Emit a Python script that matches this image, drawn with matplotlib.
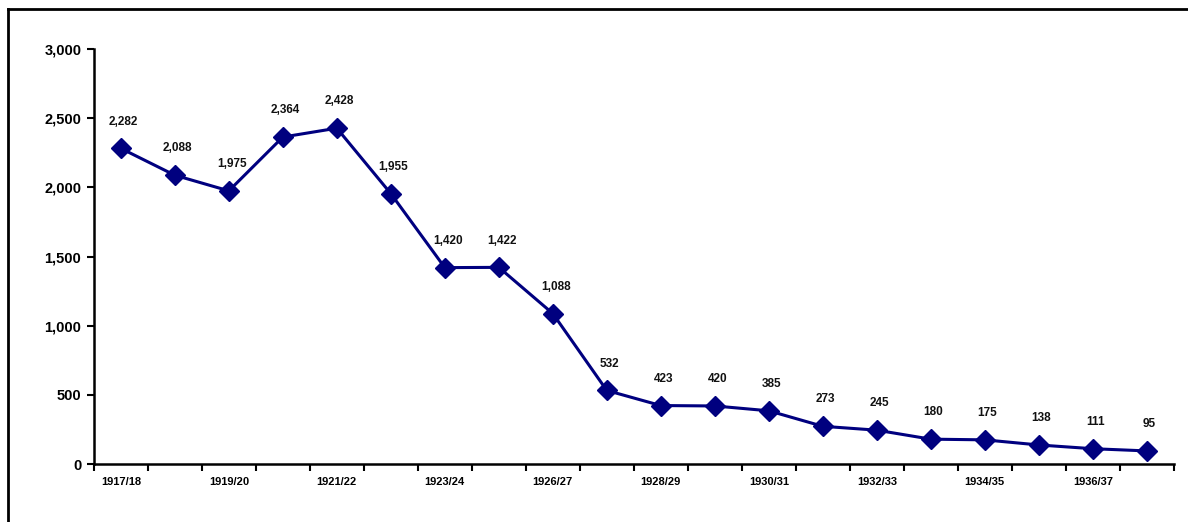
import numpy as np
import matplotlib.pyplot as plt
from matplotlib.lines import Line2D

# School years and values
years = ['1917/18', '1918/19', '1919/20', '1920/21', '1921/22', '1922/23',
         '1923/24', '1924/25', '1926/27', '1927/28', '1928/29', '1929/30',
         '1930/31', '1931/32', '1932/33', '1933/34', '1934/35', '1935/36',
         '1936/37', '1937/38']
values = [2282, 2088, 1975, 2364, 2428, 1955, 1420, 1422, 1088, 532,
          423, 420, 385, 273, 245, 180, 175, 138, 111, 95]
y_ticks = [0, 500, 1000, 1500, 2000, 2500, 3000]

navy = '#00007f'
plt.rcParams['font.family'] = ['Liberation Sans', 'DejaVu Sans']

fig = plt.figure(figsize=(11.88, 5.22), dpi=100)
ax = fig.add_axes([0.079, 0.111, 0.909, 0.795])

x = np.arange(len(years))
ax.plot(x, values, color=navy, lw=2.2, marker='D', markersize=10,
        markerfacecolor=navy, markeredgecolor=navy, clip_on=False)

for xi, v in zip(x, values):
    ax.annotate(f'{v:,}', (xi, v), xytext=(2, 15), textcoords='offset points',
                ha='center', va='bottom', fontsize=8.5, fontweight='bold',
                color='#111111')

ax.set_xlim(-0.5, len(years) - 0.5)
ax.set_ylim(0, 3000)
ax.set_yticks(y_ticks)
ax.set_yticklabels([f'{t:,}' for t in y_ticks], fontsize=10.5, fontweight='bold')

# category ticks sit between points, labels on every other point
ax.set_xticks(np.arange(len(years) + 1) - 0.5)
ax.set_xticklabels([])
ax.set_xticks(x[::2], minor=True)
ax.set_xticklabels(years[::2], minor=True, fontsize=8, fontweight='bold')
ax.tick_params(axis='x', which='minor', length=0, pad=9)
ax.tick_params(axis='x', which='major', length=5, width=1.5, direction='out')
ax.tick_params(axis='y', length=5, width=1.5, direction='out', pad=4)

for side in ['top', 'right']:
    ax.spines[side].set_visible(False)
for side in ['left', 'bottom']:
    ax.spines[side].set_linewidth(1.8)

# outer frame, only top and left edges are visible in the image
fig.add_artist(Line2D([0.007, 0.007], [0.983, 0.0], transform=fig.transFigure,
                      color='black', lw=2))
fig.add_artist(Line2D([0.007, 1.0], [0.983, 0.983], transform=fig.transFigure,
                      color='black', lw=2))

fig.savefig('out.png', dpi=100)
